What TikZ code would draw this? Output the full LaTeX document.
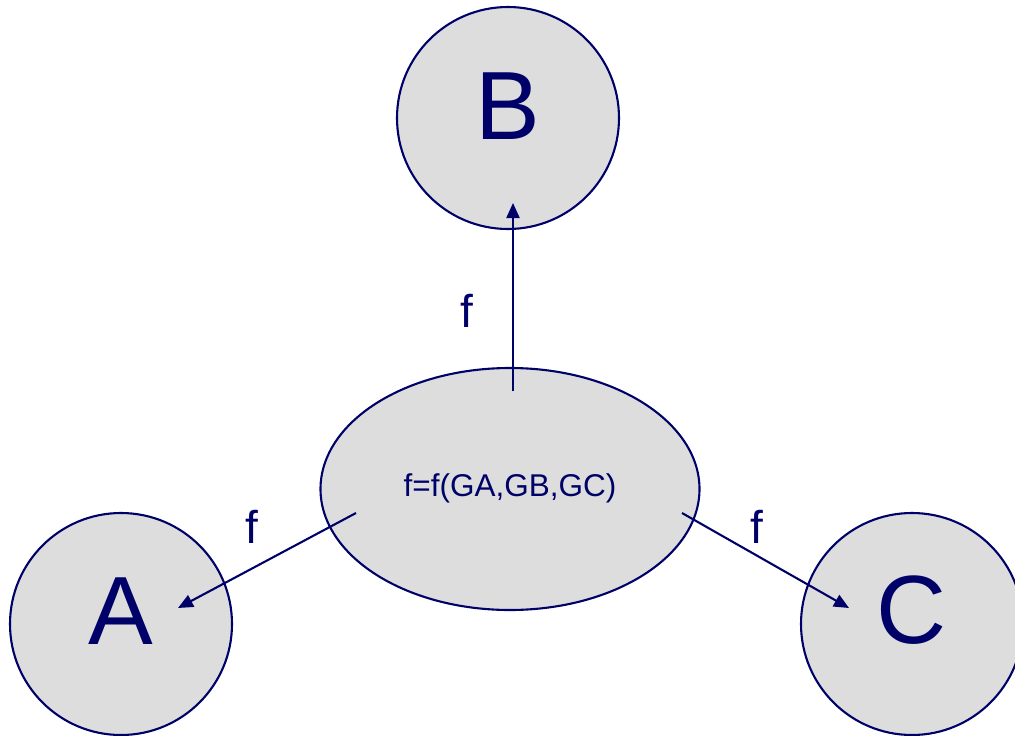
\documentclass[tikz,border=0pt]{standalone}
\usepackage{fontspec}
\setmainfont{Liberation Sans}
\usetikzlibrary{shapes.geometric,arrows.meta}
\definecolor{ink}{RGB}{0,0,105}
\definecolor{shade}{RGB}{221,221,221}
\tikzset{
  ball/.style={circle, draw=ink, fill=shade, line width=2.1pt, minimum size=222pt, inner sep=0pt},
  hub/.style={ellipse, draw=ink, fill=shade, line width=2.1pt, minimum width=379pt, minimum height=242pt, inner sep=0pt},
  letter/.style={anchor=base, text=ink, inner sep=0pt, font=\fontsize{97}{97}\selectfont},
  flabel/.style={anchor=base, text=ink, inner sep=0pt, font=\fontsize{46}{46}\selectfont},
  formula/.style={anchor=base, text=ink, inner sep=0pt, font=\fontsize{31.5}{32}\selectfont},
  link/.style={draw=ink, line width=2.1pt, -{Triangle[length=15pt,width=13pt]}}
}
\begin{document}
\begin{tikzpicture}[x=1pt, y=-1pt]
  \useasboundingbox (0,0) rectangle (1015,736);

  % the three outer states and the central function
  \node[ball] (A) at (121,624) {};
  \node[ball] (B) at (508,118) {};
  \node[ball] (C) at (912,624) {};
  \node[hub]  (E) at (510,489) {};

  % letters inside the circles
  \node[letter] (At) at ([yshift=-20pt]A.center) {A};
  \node[letter] (Bt) at ([yshift=-21pt]B.center) {B};
  \node[letter] (Ct) at ([yshift=-19pt]C.center) {C};
  \node[formula] (Et) at ([yshift=-7pt]E.center) {f=f(GA,GB,GC)};

  % arrow end points inside the shapes
  \coordinate (eB) at ([xshift=3pt,yshift=98pt]E.center);
  \coordinate (eA) at ([xshift=-154pt,yshift=-24pt]E.center);
  \coordinate (eC) at ([xshift=172pt,yshift=-24pt]E.center);
  \coordinate (tB) at ([xshift=5pt,yshift=-85pt]B.center);
  \coordinate (tA) at ([xshift=57pt,yshift=16pt]A.center);
  \coordinate (tC) at ([xshift=-63pt,yshift=16pt]C.center);

  \draw[link] (eB) -- (tB);
  \draw[link] (eA) -- (tA);
  \draw[link] (eC) -- (tC);

  % edge labels
  \node[flabel] (fB) at (467,327) {f};
  \node[flabel] (fA) at (252,543) {f};
  \node[flabel] (fC) at (757,543) {f};
\end{tikzpicture}
\end{document}
